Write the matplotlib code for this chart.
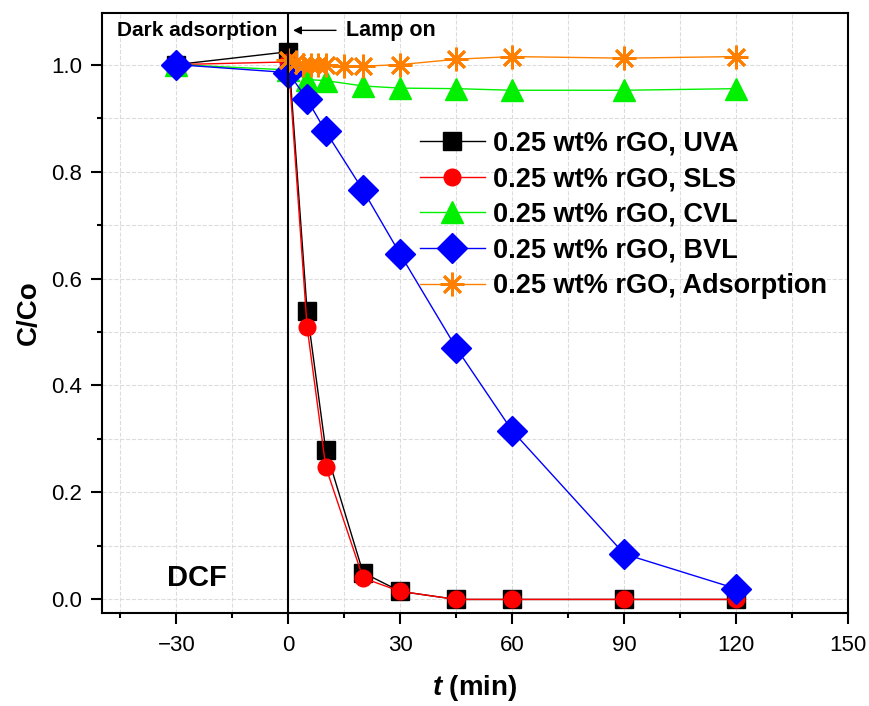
import numpy as np
import matplotlib.pyplot as plt
from matplotlib.ticker import MultipleLocator

plt.rcParams['font.family'] = ['Liberation Sans', 'DejaVu Sans']
plt.rcParams['mathtext.fontset'] = 'custom'
plt.rcParams['mathtext.bf'] = 'Liberation Sans:bold:italic'

# data
t_main = [-30, 0, 5, 10, 20, 30, 45, 60, 90, 120]
uva = [1.0, 1.024, 0.54, 0.28, 0.05, 0.015, 0.0, 0.0, 0.0, 0.0]
sls = [1.0, 1.005, 0.51, 0.248, 0.04, 0.015, 0.0, 0.0, 0.0, 0.0]
cvl = [1.0, 0.99, 0.972, 0.97, 0.96, 0.956, 0.955, 0.952, 0.952, 0.955]
bvl = [1.0, 0.985, 0.935, 0.875, 0.765, 0.645, 0.47, 0.315, 0.085, 0.02]
t_ads = [0, 2, 4, 6, 8, 10, 15, 20, 30, 45, 60, 90, 120]
ads = [1.008, 1.005, 1.0, 1.0, 1.0, 1.0, 0.997, 0.997, 1.0, 1.01, 1.015, 1.012, 1.015]
labels = ['0.25 wt% rGO, UVA', '0.25 wt% rGO, SLS', '0.25 wt% rGO, CVL',
          '0.25 wt% rGO, BVL', '0.25 wt% rGO, Adsorption']

fig = plt.figure(figsize=(8.7, 7.06), dpi=100)
ax = fig.add_axes([0.117, 0.132, 0.858, 0.850])

ax.plot(t_main, uva, '-s', color='black', lw=1, ms=13, label=labels[0])
ax.plot(t_main, sls, '-o', color='red', lw=1, ms=12, label=labels[1])
ax.plot(t_main, cvl, '-^', color='#00f000', lw=1, ms=16, label=labels[2])
ax.plot(t_main, bvl, '-D', color='blue', lw=1, ms=15, label=labels[3])
ax.plot(t_ads, ads, '-', marker=(8, 2, 0), color='#ff8000', lw=1, ms=17,
        mew=2, label=labels[4])

ax.axvline(0, color='black', lw=1.5)

ax.set_xlim(-50, 150)
ax.set_ylim(-0.025, 1.097)
ax.xaxis.set_major_locator(MultipleLocator(30))
ax.xaxis.set_minor_locator(MultipleLocator(15))
ax.yaxis.set_major_locator(MultipleLocator(0.2))
ax.yaxis.set_minor_locator(MultipleLocator(0.1))
ax.set_xticks([-30, 0, 30, 60, 90, 120, 150])
ax.set_xticklabels(['\u221230', '0', '30', '60', '90', '120', '150'])
ax.grid(which='both', color='#dcdcdc', ls='--', lw=0.8)
ax.set_axisbelow(True)
ax.tick_params(which='major', direction='out', length=8, width=1.5, labelsize=16)
ax.tick_params(which='minor', direction='out', length=3.5, width=1.5)
ax.tick_params(axis='x', which='major', pad=8)
ax.tick_params(axis='y', which='major', pad=6)
for s in ax.spines.values():
    s.set_linewidth(1.5)

ax.set_xlabel(r'$\mathbf{t}$ (min)', fontsize=20, fontweight='bold', labelpad=12)
ax.set_ylabel('C/Co', fontsize=20, fontweight='bold', labelpad=7)

ax.text(-24.4, 1.064, 'Dark adsorption', fontsize=15, fontweight='bold',
        ha='center', va='center')
ax.annotate('', xy=(0.5, 1.064), xytext=(13.5, 1.064),
            arrowprops=dict(arrowstyle='-|>', color='black', lw=1, mutation_scale=12))
ax.text(15.3, 1.064, 'Lamp on', fontsize=15.5, fontweight='bold', va='center')
ax.text(-24.6, 0.041, 'DCF', fontsize=21, fontweight='bold', ha='center', va='center')

ax.legend(loc='upper left', bbox_to_anchor=(0.426, 0.804), frameon=False,
          prop={'size': 19.5, 'weight': 'bold'}, handlelength=2.4,
          handletextpad=0.3, labelspacing=0.36, borderpad=0, borderaxespad=0)

fig.savefig('out.png', dpi=100)
